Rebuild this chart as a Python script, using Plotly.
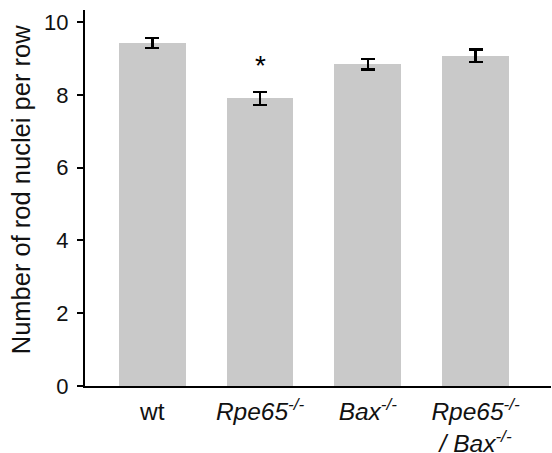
import plotly.graph_objects as go

categories = ["wt", "<i>Rpe65<sup>-/-</sup></i>", "<i>Bax<sup>-/-</sup></i>",
              "<i>Rpe65<sup>-/-</sup></i><br><i>/ Bax<sup>-/-</sup></i>"]
values = [9.42, 7.90, 8.84, 9.07]
errors = [0.14, 0.18, 0.14, 0.17]
star_label = "*"
star_index = 1
star_y = 8.8
y_ticks = [0, 2, 4, 6, 8, 10]
y_title = "Number of rod nuclei per row"

xpos = list(range(len(categories)))

fig = go.Figure()
fig.add_trace(go.Bar(
    x=xpos, y=values, width=0.62,
    marker=dict(color="#c9c9c9", line=dict(width=0)),
    error_y=dict(type="data", array=errors, visible=True, color="#000000",
                 thickness=2.4, width=7),
    showlegend=False,
))
fig.add_annotation(x=xpos[star_index], y=star_y, text=star_label, showarrow=False,
                   font=dict(size=28, color="#000000", family="Liberation Sans, Arial"),
                   yanchor="middle")
fig.add_annotation(xref="paper", yref="paper", x=-0.137, y=0.521, text=y_title,
                   textangle=-90, showarrow=False, xanchor="center", yanchor="middle",
                   font=dict(size=25.5, color="#111111", family="Liberation Sans, Arial"))

fig.update_layout(
    width=552, height=453,
    margin=dict(l=85, r=1, t=10, b=67),
    paper_bgcolor="white", plot_bgcolor="white",
    font=dict(family="Liberation Sans, Arial, sans-serif", size=20, color="#111111"),
    bargap=0,
)
fig.update_xaxes(
    range=[-0.625, 3.7], tickvals=xpos, ticktext=categories,
    showline=True, linecolor="#000000", linewidth=2, ticks="",
    showgrid=False, zeroline=False, tickfont=dict(size=24.5), automargin=False,
    ticklabelstandoff=3,
)
fig.update_yaxes(
    range=[0, 10.33], tickvals=y_ticks, showline=True, linecolor="#000000",
    linewidth=2, ticks="outside", ticklen=6, tickwidth=2, tickcolor="#000000",
    showgrid=False, zeroline=False, tickfont=dict(size=22), automargin=False,
    ticklabelstandoff=4,
)
fig.write_html("out.html", config={"displayModeBar": False},
               post_script="document.body.style.margin='0px';")
